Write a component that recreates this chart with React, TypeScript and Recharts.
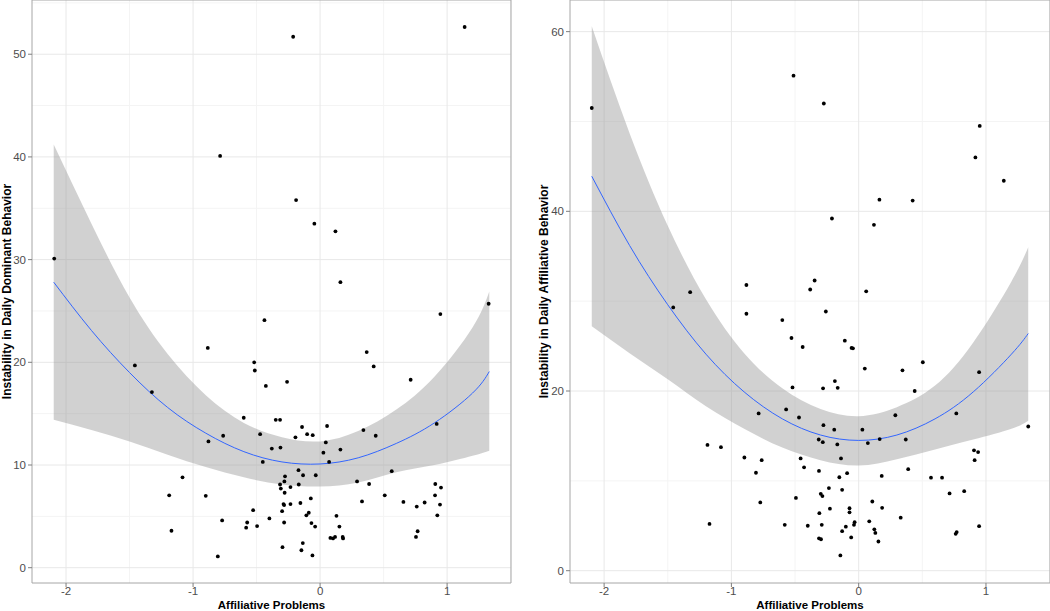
import { ComposedChart, Scatter, Area, Line, XAxis, YAxis, CartesianGrid, ReferenceArea } from "recharts"

// fitted curve + 95% band at these x positions
const curveX = [-2.097, -1.8, -1.5, -1.2, -0.9, -0.6, -0.3, 0, 0.3, 0.6, 0.9, 1.2, 1.332]

const domFit = [27.8, 23.1, 19.0, 15.6, 13.1, 11.3, 10.3, 10.1, 10.7, 12.1, 14.1, 17.0, 19.1]
const domLo = [14.4, 13.4, 12.3, 11.0, 9.8, 8.8, 8.1, 7.9, 8.3, 9.3, 10.0, 10.9, 11.4]
const domHi = [41.2, 33.5, 26.3, 20.8, 16.8, 14.1, 12.7, 12.3, 13.3, 15.4, 18.6, 23.4, 26.9]

const affFit = [43.9, 36.2, 29.6, 24.1, 19.9, 16.9, 15.1, 14.5, 15.1, 16.9, 19.9, 24.1, 26.4]
const affLo = [27.2, 24.2, 21.3, 18.3, 15.8, 13.7, 12.3, 11.7, 12.4, 13.5, 14.6, 15.8, 16.7]
const affHi = [60.6, 48.7, 38.4, 30.2, 24.2, 20.3, 18.0, 17.2, 18.2, 20.6, 25.4, 32.2, 36.0]

// [affiliative problems, instability in dominant behavior]
const domPoints: [number, number][] = [
  [-2.093, 30.1], [-1.458, 19.7], [-1.324, 17.1], [-1.188, 7.05], [-1.17, 3.6], [-1.083, 8.8],
  [-0.9, 7.0], [-0.884, 21.4], [-0.879, 12.3], [-0.805, 1.1], [-0.787, 40.1], [-0.771, 4.6],
  [-0.763, 12.85], [-0.601, 14.6], [-0.582, 3.9], [-0.574, 4.4], [-0.527, 5.6], [-0.519, 20.0],
  [-0.514, 19.2], [-0.496, 4.05], [-0.472, 13.0], [-0.451, 10.3], [-0.438, 24.1], [-0.427, 17.7],
  [-0.399, 4.8], [-0.38, 11.6], [-0.349, 14.4], [-0.315, 14.4], [-0.312, 11.7], [-0.315, 8.1],
  [-0.309, 7.7], [-0.299, 5.5], [-0.296, 2.0], [-0.288, 6.2], [-0.283, 6.1], [-0.283, 4.4],
  [-0.281, 8.4], [-0.279, 7.3], [-0.276, 8.9], [-0.26, 18.1], [-0.233, 7.85], [-0.233, 6.2],
  [-0.212, 51.7], [-0.194, 12.7], [-0.189, 35.8], [-0.17, 9.5], [-0.168, 8.1], [-0.155, 6.3],
  [-0.147, 1.7], [-0.142, 13.7], [-0.136, 2.4], [-0.134, 9.0], [-0.108, 5.1], [-0.102, 13.0],
  [-0.089, 5.35], [-0.073, 6.75], [-0.068, 4.35], [-0.06, 1.2], [-0.058, 12.9], [-0.045, 33.5],
  [-0.039, 4.0], [-0.034, 9.0], [0.026, 11.2], [0.045, 12.2], [0.055, 13.8], [0.071, 10.3],
  [0.081, 2.9], [0.102, 2.85], [0.118, 3.0], [0.121, 32.75], [0.129, 5.05], [0.152, 4.0],
  [0.16, 27.8], [0.16, 11.5], [0.178, 3.0], [0.181, 2.85], [0.291, 8.4], [0.33, 6.45],
  [0.341, 13.4], [0.367, 21.0], [0.386, 8.15], [0.422, 19.6], [0.438, 12.85], [0.509, 7.05],
  [0.564, 9.4], [0.656, 6.4], [0.713, 18.3], [0.755, 3.0], [0.761, 5.95], [0.768, 3.55],
  [0.823, 6.35], [0.905, 7.05], [0.907, 8.15], [0.918, 14.0], [0.923, 5.1], [0.944, 6.15],
  [0.947, 24.7], [0.952, 7.8], [1.138, 52.65], [1.327, 25.7],
]

// [affiliative problems, instability in affiliative behavior]
const affPoints: [number, number][] = [
  [-2.097, 51.5], [-1.457, 29.3], [-1.324, 31.0], [-1.188, 14.0], [-1.172, 5.2], [-1.082, 13.75],
  [-0.898, 12.6], [-0.882, 31.8], [-0.882, 28.6], [-0.807, 10.9], [-0.786, 17.5], [-0.773, 7.6],
  [-0.762, 12.3], [-0.6, 27.9], [-0.581, 5.1], [-0.57, 17.95], [-0.528, 25.9], [-0.52, 20.4],
  [-0.512, 55.1], [-0.493, 8.1], [-0.469, 17.05], [-0.456, 12.5], [-0.44, 24.9], [-0.429, 11.5],
  [-0.4, 5.0], [-0.381, 31.3], [-0.346, 32.3], [-0.314, 14.6], [-0.312, 11.1], [-0.309, 6.4],
  [-0.312, 3.6], [-0.298, 8.55], [-0.296, 3.5], [-0.29, 5.1], [-0.285, 8.3], [-0.282, 14.3],
  [-0.28, 20.3], [-0.277, 16.2], [-0.274, 52.0], [-0.258, 28.85], [-0.234, 9.2], [-0.226, 6.9],
  [-0.21, 39.2], [-0.192, 15.7], [-0.187, 21.1], [-0.168, 14.05], [-0.165, 20.35], [-0.152, 10.4],
  [-0.144, 1.7], [-0.139, 12.5], [-0.13, 9.0], [-0.13, 4.4], [-0.109, 25.6], [-0.101, 4.9],
  [-0.091, 10.85], [-0.072, 6.95], [-0.072, 6.5], [-0.059, 3.7], [-0.056, 24.8], [-0.045, 24.75],
  [-0.037, 5.1], [-0.032, 5.4], [0.029, 15.7], [0.048, 22.5], [0.059, 31.1], [0.072, 14.2],
  [0.083, 5.5], [0.107, 7.7], [0.12, 38.5], [0.123, 4.6], [0.131, 4.2], [0.155, 3.25],
  [0.163, 41.3], [0.165, 14.65], [0.181, 10.55], [0.184, 7.0], [0.288, 17.3], [0.33, 5.9],
  [0.344, 22.3], [0.37, 14.6], [0.389, 11.3], [0.424, 41.2], [0.44, 20.0], [0.504, 23.2],
  [0.568, 10.35], [0.655, 10.35], [0.714, 8.6], [0.762, 4.1], [0.77, 4.3], [0.767, 17.5],
  [0.829, 8.85], [0.906, 13.4], [0.911, 12.3], [0.917, 46.0], [0.938, 13.2], [0.946, 22.1],
  [0.946, 4.95], [0.951, 49.5], [1.14, 43.4], [1.332, 16.05],
]

const xDomain: [number, number] = [-2.268, 1.503]
const xTicks = [-2, -1, 0, 1]
const xMinor = [-1.5, -0.5, 0.5, 1.5]

const domDomain: [number, number] = [-1.49, 55.28]
const domTicks = [0, 10, 20, 30, 40, 50]
const domMinor = [5, 15, 25, 35, 45, 55]

const affDomain: [number, number] = [-1.37, 63.52]
const affTicks = [0, 20, 40, 60]
const affMinor = [10, 30, 50]

const FONT = "'Liberation Sans', Arial, Helvetica, sans-serif"
const H = 611
const PLOT_BOTTOM = 28

const tickStyle = { fontSize: 11.5, fill: "#4d4d4d", fontFamily: FONT }

function Dot(props: any) {
  return <circle cx={props.cx} cy={props.cy} r={1.9} fill="#000" />
}

function Panel(props: {
  left: number
  width: number
  rightMargin: number
  yAxisWidth: number
  titleX: number
  yTitle: string
  fit: number[]
  lo: number[]
  hi: number[]
  points: [number, number][]
  yDomain: [number, number]
  yTicks: number[]
  yMinor: number[]
}) {
  const { left, width, rightMargin, yAxisWidth, titleX, yTitle, fit, lo, hi, points, yDomain, yTicks, yMinor } = props
  const curve = curveX.map((x, i) => ({ x, fit: fit[i], band: [lo[i], hi[i]] }))
  const dots = points.map(([x, y]) => ({ x, y }))

  const xLabel = (p: any) => {
    const vb = p.viewBox
    return (
      <text x={vb.x + vb.width / 2} y={vb.y + 21.5} textAnchor="middle" dominantBaseline="central"
        fontSize={11.5} fontWeight="bold" fontFamily={FONT} fill="#000">
        Affiliative Problems
      </text>
    )
  }
  const yLabel = (p: any) => {
    const vb = p.viewBox
    const cx = vb.x + titleX
    const cy = vb.y + vb.height / 2
    return (
      <text x={cx} y={cy} transform={`rotate(-90 ${cx} ${cy})`} textAnchor="middle" dominantBaseline="central"
        fontSize={12} fontWeight="bold" fontFamily={FONT} fill="#000">
        {yTitle}
      </text>
    )
  }

  return (
    <div style={{ position: "absolute", left, top: 0 }}>
      <ComposedChart width={width} height={H} data={curve} margin={{ top: 0, right: rightMargin, bottom: 0, left: 0 }}>
        <CartesianGrid horizontalValues={yMinor} verticalValues={xMinor} stroke="#f4f4f4" />
        <CartesianGrid horizontalValues={yTicks} verticalValues={xTicks} stroke="#e8e8e8" />
        <XAxis type="number" dataKey="x" domain={xDomain} ticks={xTicks} allowDataOverflow height={PLOT_BOTTOM}
          axisLine={false} tickSize={4} tickMargin={0} tickLine={{ stroke: "#7f7f7f" }} tick={tickStyle} label={xLabel} />
        <YAxis type="number" domain={yDomain} ticks={yTicks} allowDataOverflow width={yAxisWidth}
          axisLine={false} tickSize={4} tickLine={{ stroke: "#7f7f7f" }} tick={tickStyle} label={yLabel} />
        <Scatter data={dots} dataKey="y" fill="#000" shape={Dot} isAnimationActive={false} />
        <Area dataKey="band" type="natural" fill="#999999" fillOpacity={0.45} stroke="none" isAnimationActive={false} />
        <Line dataKey="fit" type="natural" stroke="#3366FF" strokeWidth={1} dot={false} isAnimationActive={false} />
        <ReferenceArea x1={xDomain[0]} x2={xDomain[1]} y1={yDomain[0]} y2={yDomain[1]}
          fill="none" stroke="#a6a6a6" ifOverflow="visible" />
      </ComposedChart>
    </div>
  )
}

export default function App() {
  return (
    <div style={{ position: "absolute", left: 0, top: 0, width: 1050, height: H, background: "#fff", overflow: "hidden" }}>
      <Panel left={0} width={515} rightMargin={4} yAxisWidth={32} titleX={7}
        yTitle="Instability in Daily Dominant Behavior"
        fit={domFit} lo={domLo} hi={domHi} points={domPoints}
        yDomain={domDomain} yTicks={domTicks} yMinor={domMinor} />
      <Panel left={520} width={530} rightMargin={0} yAxisWidth={50} titleX={24}
        yTitle="Instability in Daily Affiliative Behavior"
        fit={affFit} lo={affLo} hi={affHi} points={affPoints}
        yDomain={affDomain} yTicks={affTicks} yMinor={affMinor} />
    </div>
  )
}
